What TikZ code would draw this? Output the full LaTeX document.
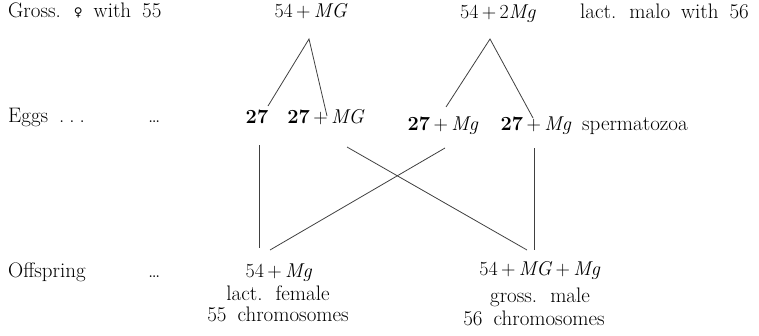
\documentclass[tikz,border=0pt]{standalone}
\usepackage{fontspec}
\newfontfamily\symf{DejaVu Sans}
\usetikzlibrary{calc}
\newcommand{\pl}{\,+\,}
\newcommand{\widesp}{\spaceskip=11pt plus 2pt minus 1pt\relax}
\newcommand{\wdots}{\hbox{.\kern5pt.\kern5pt.}}
\tikzset{
  txt/.style={inner sep=0pt, font=\fontsize{21}{25}\selectfont\widesp},
  mth/.style={inner sep=0pt, font=\fontsize{20}{24}\selectfont},
  ln/.style={line width=0.8pt, draw=black!75},
}
\begin{document}
\begin{tikzpicture}[x=1pt,y=-1pt]
\useasboundingbox (0,0) rectangle (759,335);
% top row
\node[txt, anchor=base west] (lt) at (8,17) {Gross. \raisebox{1pt}{\symf\fontsize{12}{14}\selectfont ♀} with 55};
\node[mth, anchor=base] (t1) at (311,17) {54\pl\textit{MG}};
\node[mth, anchor=base] (t2) at (498,18) {54\pl2\textit{Mg}};
\node[txt, anchor=base west] (rt) at (580,18) {lact. malo with 56};
% eggs row
\node[txt, anchor=base west] (le) at (8,122) {Eggs \wdots};
\node[txt, anchor=base west] (ld1) at (148,122) {\dots};
\node[mth, anchor=base] (e1) at (257,123) {\textbf{27}};
\node[mth, anchor=base] (e2) at (326,123) {\textbf{27}\pl\textit{MG}};
\node[mth, anchor=base] (e3) at (443,130) {\textbf{27}\pl\textit{Mg}};
\node[mth, anchor=base] (e4) at (536,130) {\textbf{27}\pl\textit{Mg}};
\node[txt, anchor=base west] (sp) at (582,130) {spermatozoa};
% offspring row
\node[txt, anchor=base west] (lo) at (8,277) {Offspring};
\node[txt, anchor=base west] (ld2) at (148,277) {\dots};
\node[mth, anchor=base] (o1) at (279,277) {54\pl\textit{Mg}};
\node[txt, anchor=base] (o1b) at (278,300) {lact. female};
\node[txt, anchor=base] (o1c) at (278,321) {55 chromosomes};
\node[mth, anchor=base] (o2) at (540,275) {54\pl\textit{MG}\pl\textit{Mg}};
\node[txt, anchor=base] (o2b) at (540,302) {gross. male};
\node[txt, anchor=base] (o2c) at (534,325) {56 chromosomes};
% connectors
\draw[ln] ($(e1.base)+(11,-17)$) -- ($(t1.base)+(-2,22)$) -- ($(e2.base)+(1,-7)$);
\draw[ln] ($(e3.base)+(3,-23)$) -- ($(t2.base)+(-8,21)$) -- ($(e4.base)+(-3,-12)$);
\draw[ln] ($(e1.base)+(2,22)$) -- ($(o1.base)+(-20,-29)$);
\draw[ln] ($(e2.base)+(21,24)$) -- ($(o2.base)+(-13,-25)$);
\draw[ln] ($(e3.base)+(2,18)$) -- ($(o1.base)+(-9,-27)$);
\draw[ln] ($(e4.base)+(-2,18)$) -- ($(o2.base)+(-6,-25)$);
\end{tikzpicture}
\end{document}
